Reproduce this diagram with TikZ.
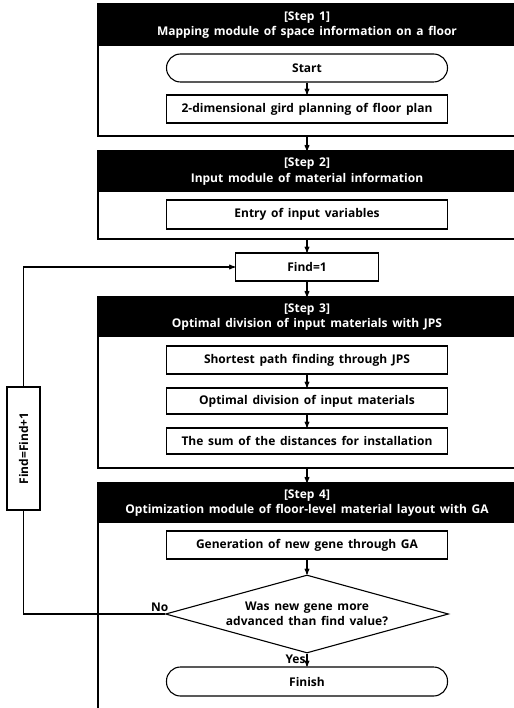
\documentclass[tikz,border=0pt]{standalone}
\usepackage{fontspec}
\setmainfont{Open Sans}[WordSpace=1.5]
\usetikzlibrary{positioning,calc,arrows,shapes.geometric}
\tikzstyle{stepbox} = [draw, rectangle, line width=1.6pt, minimum width=418pt, inner sep=0pt]
\tikzstyle{head} = [fill=black, text=white, rectangle, minimum width=418pt, inner sep=0pt, align=center]
\tikzstyle{block} = [draw, rectangle, line width=1.1pt, minimum width=281pt, minimum height=28pt, inner sep=0pt]
\tikzstyle{term} = [block, rounded corners=14pt]
\tikzstyle{decision} = [draw, diamond, aspect=3.6, line width=1.1pt, minimum width=283pt, minimum height=78pt, inner sep=0pt, align=center]
\tikzstyle{to} = [->,>=stealth',line width=1.1pt]

\begin{document}
\begin{tikzpicture}[x=1pt, y=-1pt, font=\bfseries\fontsize{12}{15.5}\selectfont]
\useasboundingbox (0,0) rectangle (513,708);
\node[stepbox, minimum height=132pt] (step1) at (307,70) {};
\node[head, minimum height=42pt] (head1) at (307,25) {[Step 1]\\Mapping module of space information on a floor};
\node[term] (start) at (307,68) {Start};
\node[block] (grid) at (307,109) {2-dimensional gird planning of floor plan};
\node[stepbox, minimum height=88pt] (step2) at (307,195) {};
\node[head, minimum height=41pt] (head2) at (307,171.5) {[Step 2]\\Input module of material information};
\node[block, minimum height=29pt] (entry) at (307,214.5) {Entry of input variables};
\node[block, minimum width=143pt] (find) at (307,267) {Find=1};
\node[stepbox, minimum height=171pt] (step3) at (307,382.5) {};
\node[head, minimum height=40pt] (head3) at (307,317) {[Step 3]\\Optimal division of input materials with JPS};
\node[block] (jps) at (307,360) {Shortest path finding through JPS};
\node[block, minimum height=26pt] (division) at (307,401) {Optimal division of input materials};
\node[block, minimum height=26pt] (sum) at (307,441) {The sum of the distances for installation};
\node[stepbox, minimum height=229pt] (step4) at (307,597.5) {};
\node[head, minimum height=40pt] (head4) at (307,503) {[Step 4]\\Optimization module of floor-level material layout with GA};
\node[block] (gene) at (307,545) {Generation of new gene through GA};
\node[decision] (advanced) at (307,614) {Was new gene more\\advanced than find value?};
\node[term, minimum height=29pt] (finish) at (307,681.5) {Finish};
\node[block, minimum width=33pt, minimum height=123pt] (findplus) at (23.5,448.5) {\rotatebox{90}{Find=Find+1}};
\draw[to] (start) -- (grid);
\draw[to] (step1) -- (head2);
\draw[to] (step2) -- (find);
\draw[to] (find) -- (head3);
\draw[to] (jps) -- (division);
\draw[to] (division) -- (sum);
\draw[to] (step3) -- (head4);
\draw[to] (gene) -- (advanced);
\draw[to] (advanced.south) node[below left, inner sep=1pt] {Yes} -- (finish);
\draw[line width=1.1pt] (advanced.west) node[above left, xshift=6pt, inner sep=2pt] {No} -| (findplus);
\draw[to] (findplus) |- (find);
\end{tikzpicture}
\end{document}
